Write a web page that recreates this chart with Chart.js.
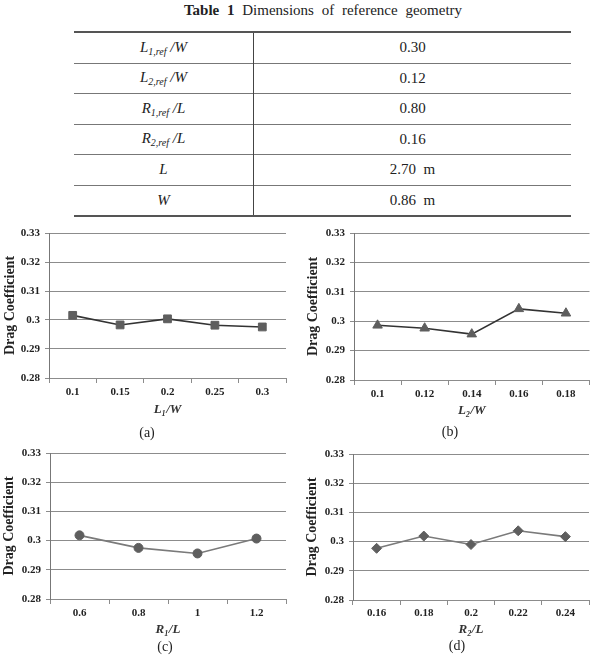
<!DOCTYPE html>
<html>
<head>
<meta charset="utf-8">
<script src="https://cdn.jsdelivr.net/npm/chart.js@4"></script>
<style>
  body { margin: 0; background: #fff; width: 596px; height: 662px; position: relative; overflow: hidden;
         font-family: "Liberation Serif", serif; color: #222; }
  .title { position: absolute; left: 0; width: 646px; top: 2px; text-align: center; font-size: 15px; word-spacing: 4px; }
  table { position: absolute; left: 74px; top: 31px; width: 497px; border-collapse: collapse; font-size: 15px; }
  table { border-top: 2px solid #555; border-bottom: 2px solid #555; }
  td { height: 29.5px; padding: 0; text-align: center; border-top: 1px solid #777; }
  tr:first-child td { border-top: none; }
  td.k { width: 179px; border-right: 1px solid #444; font-style: italic; }
  sub { font-size: 10px; vertical-align: -3px; }
  canvas { position: absolute; }
  .cap { position: absolute; font-size: 14px; transform: translate(-50%, -50%); }
</style>
</head>
<body>
<div class="title"><b>Table 1</b> Dimensions of reference geometry</div>
<table>
  <tr><td class="k">L<sub>1,ref</sub> /W</td><td>0.30</td></tr>
  <tr><td class="k">L<sub>2,ref</sub> /W</td><td>0.12</td></tr>
  <tr><td class="k">R<sub>1,ref</sub> /L</td><td>0.80</td></tr>
  <tr><td class="k">R<sub>2,ref</sub> /L</td><td>0.16</td></tr>
  <tr><td class="k">L</td><td>2.70&nbsp; m</td></tr>
  <tr><td class="k">W</td><td>0.86&nbsp; m</td></tr>
</table>

<canvas id="chartA" width="296" height="200" style="left:0;top:220px"></canvas>
<canvas id="chartB" width="296" height="200" style="left:300px;top:220px"></canvas>
<canvas id="chartC" width="296" height="200" style="left:0;top:440px"></canvas>
<canvas id="chartD" width="296" height="200" style="left:300px;top:440px"></canvas>
<div class="cap" style="left:147px;top:433px">(a)</div>
<div class="cap" style="left:450px;top:432px">(b)</div>
<div class="cap" style="left:165px;top:647px">(c)</div>
<div class="cap" style="left:457px;top:646px">(d)</div>

<script>
// drag coefficient vs. each geometry ratio
const labelsA = ['0.1', '0.15', '0.2', '0.25', '0.3'];
const dragA = [0.3016, 0.2983, 0.3004, 0.2982, 0.2976];

const labelsB = ['0.1', '0.12', '0.14', '0.16', '0.18'];
const dragB = [0.2986, 0.2976, 0.2956, 0.3042, 0.3027];

const labelsC = ['0.6', '0.8', '1', '1.2'];
const dragC = [0.3018, 0.2975, 0.2956, 0.3007];

const labelsD = ['0.16', '0.18', '0.2', '0.22', '0.24'];
const dragD = [0.2977, 0.3019, 0.2990, 0.3037, 0.3017];

const yMin = 0.28;
const yMax = 0.33;
const yStep = 0.01;

const serif = '"Liberation Serif", serif';
const gridColor = '#8c8c8c';

function makeChart(id, labels, values, o) {
    const ctx = document.getElementById(id).getContext('2d');
    return new Chart(ctx, {
        type: 'line',
        data: {
            labels: labels,
            datasets: [{
                data: values,
                borderColor: o.line,
                borderWidth: 1.6,
                pointStyle: o.marker,
                pointRadius: o.radius,
                pointBackgroundColor: '#5e5e5e',
                pointBorderColor: '#5e5e5e',
                pointBorderWidth: 1,
                tension: 0
            }]
        },
        options: {
            responsive: false,
            animation: false,
            devicePixelRatio: 1,
            layout: { padding: { top: o.top, right: o.right, left: 0, bottom: 0 } },
            plugins: { legend: { display: false }, tooltip: { enabled: false } },
            scales: {
                x: {
                    offset: true,
                    grid: { display: true, drawOnChartArea: false, offset: true, tickLength: 5, color: gridColor },
                    border: { color: gridColor },
                    ticks: { color: '#222', padding: o.xPad, font: { family: serif, size: 11, weight: 'bold' } },
                    title: {
                        display: true, text: o.xTitle, color: '#333',
                        padding: { top: 0, bottom: o.xTitlePad },
                        font: { family: serif, size: 13, weight: 'bold', style: 'italic' }
                    },
                    afterFit: function (scale) { scale.height = o.xHeight; }
                },
                y: {
                    min: yMin,
                    max: yMax,
                    grid: { color: gridColor, tickLength: 4 },
                    border: { color: '#777' },
                    ticks: {
                        stepSize: yStep,
                        color: '#222',
                        padding: 5,
                        font: { family: serif, size: 11, weight: 'bold' },
                        callback: function (v) { return String(+v.toFixed(2)); }
                    },
                    title: {
                        display: true, text: 'Drag Coefficient', color: '#222',
                        padding: { top: o.yTitlePad, bottom: 0 },
                        font: { family: serif, size: 14, weight: 'bold' }
                    },
                    afterFit: function (scale) { scale.width = o.yWidth; }
                }
            }
        }
    });
}

makeChart('chartA', labelsA, dragA, {
    line: '#333', marker: 'rect', radius: 5.5, xTitle: 'L\u2081/W',
    top: 13, right: 10, yWidth: 49, xHeight: 42, xPad: 3, xTitlePad: 3, yTitlePad: 2
});
makeChart('chartB', labelsB, dragB, {
    line: '#333', marker: 'triangle', radius: 5.5, xTitle: 'L\u2082/W',
    top: 13, right: 6, yWidth: 54, xHeight: 40, xPad: 3, xTitlePad: 2, yTitlePad: 5
});
makeChart('chartC', labelsC, dragC, {
    line: '#7a7a7a', marker: 'circle', radius: 4.5, xTitle: 'R\u2081/L',
    top: 13, right: 10, yWidth: 50, xHeight: 41, xPad: 3, xTitlePad: 3, yTitlePad: 1
});
makeChart('chartD', labelsD, dragD, {
    line: '#7a7a7a', marker: 'rectRot', radius: 5, xTitle: 'R\u2082/L',
    top: 14, right: 7, yWidth: 53, xHeight: 40, xPad: 2, xTitlePad: 3, yTitlePad: 4
});
</script>
</body>
</html>
